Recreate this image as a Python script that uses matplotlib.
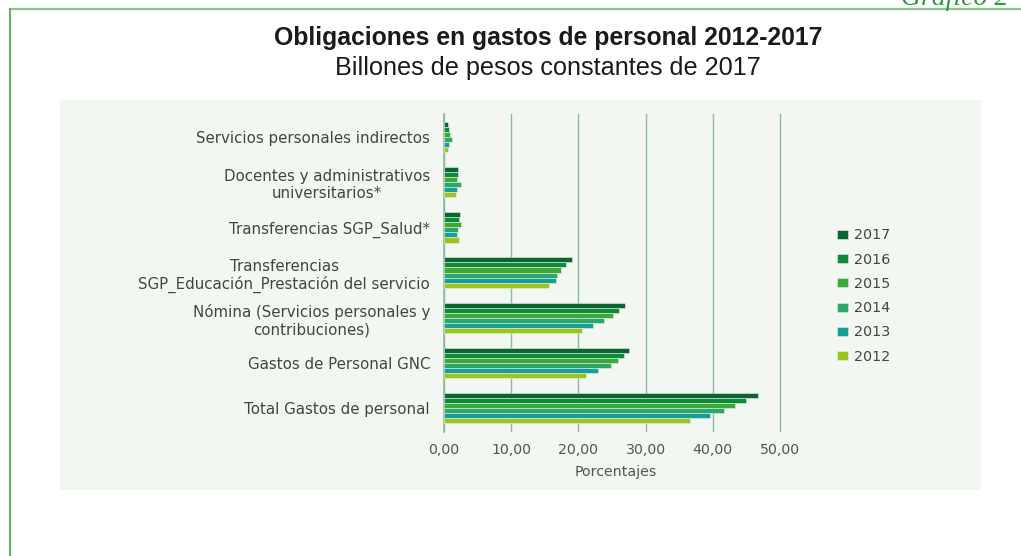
import matplotlib.pyplot as plt
import numpy as np
from matplotlib.patches import Rectangle
from matplotlib.lines import Line2D

# Categories, bottom to top on the chart
categories = [
    'Total Gastos de personal',
    'Gastos de Personal GNC',
    'Nómina (Servicios personales y\ncontribuciones)',
    'Transferencias\nSGP_Educación_Prestación del servicio',
    'Transferencias SGP_Salud*',
    'Docentes y administrativos\nuniversitarios*',
    'Servicios personales indirectos',
]

years = ['2017', '2016', '2015', '2014', '2013', '2012']

# Billions of constant 2017 pesos, one list per year (same order as categories)
v2017 = [46.7, 27.6, 27.0, 19.1, 2.4, 2.1, 0.65]
v2016 = [44.9, 26.8, 26.1, 18.1, 2.3, 2.1, 0.70]
v2015 = [43.3, 25.9, 25.1, 17.4, 2.6, 2.0, 0.95]
v2014 = [41.7, 24.9, 23.8, 16.8, 2.1, 2.5, 1.15]
v2013 = [39.6, 22.9, 22.2, 16.7, 2.0, 2.0, 0.80]
v2012 = [36.6, 21.1, 20.5, 15.6, 2.2, 1.85, 0.60]
values = [v2017, v2016, v2015, v2014, v2013, v2012]

colors = ['#0b6432', '#0e8a3b', '#3aa937', '#2ba869', '#14a096', '#9cc41f']

ticks = [0, 10, 20, 30, 40, 50]
tick_labels = ['0,00', '10,00', '20,00', '30,00', '40,00', '50,00']

plt.rcParams['font.family'] = ['DejaVu Sans']

fig = plt.figure(figsize=(10.21, 5.56), dpi=100)
W, H = 1021, 556

# outer frame lines and light panel behind the chart
fig.add_artist(Line2D([10 / W, 1], [1 - 9 / H, 1 - 9 / H], color='#86c48a', lw=1.6))
fig.add_artist(Line2D([10 / W, 10 / W], [0, 1 - 9 / H], color='#5cae5e', lw=1.4))
fig.add_artist(Rectangle((60 / W, 1 - 490 / H), (981 - 60) / W, (490 - 100) / H,
                         transform=fig.transFigure, facecolor='#f2f7f2',
                         edgecolor='none', zorder=0))

fig.text(1008 / W, 1 - 5 / H, 'Gráfico 2', ha='right', va='baseline',
         fontsize=20, style='italic', color='#2f9a3c', family=['Liberation Serif', 'DejaVu Serif'])
fig.text(548 / W, 1 - 38 / H, 'Obligaciones en gastos de personal 2012-2017',
         ha='center', va='center', fontsize=17.8, fontweight='bold', color='#1a1a1a',
         family=['Liberation Sans', 'DejaVu Sans'])
fig.text(548 / W, 1 - 68 / H, 'Billones de pesos constantes de 2017',
         ha='center', va='center', fontsize=18.2, color='#1a1a1a',
         family=['Liberation Sans', 'DejaVu Sans'])

x_max = 51
ax = fig.add_axes([444 / W, 1 - 432 / H, x_max * 6.72 / W, (432 - 114) / H])
ax.patch.set_alpha(0)

y = np.arange(len(categories))
bar_h = 0.112
for i, (yr, vals, c) in enumerate(zip(years, values, colors)):
    offset = (2.5 - i) * bar_h
    ax.barh(y + offset, vals, height=bar_h, color=c, label=yr,
            edgecolor='#e4efe4', linewidth=0.4, zorder=3)

ax.set_xlim(0, x_max)
ax.set_ylim(-0.53, 6.51)
ax.set_xticks(ticks)
ax.set_xticklabels(tick_labels, fontsize=10.2, color='#555555')
ax.set_yticks(y)
ax.set_yticklabels(categories, fontsize=10.8, color='#444444')
for lbl in ax.get_yticklabels():
    lbl.set_multialignment('center')
ax.tick_params(axis='y', length=0, pad=10)
ax.tick_params(axis='x', length=0, pad=8)
ax.grid(axis='x', color='#8fb8a0', lw=1.0, zorder=1)
for s in ['top', 'right', 'bottom']:
    ax.spines[s].set_visible(False)
ax.spines['left'].set_color('#8fb8a0')
ax.spines['left'].set_linewidth(1.2)
ax.set_xlabel('Porcentajes', fontsize=10.2, color='#555555', labelpad=6)

leg = fig.legend(loc='center left', bbox_to_anchor=(824 / W, 1 - 296 / H),
                 frameon=False, fontsize=10.3, handlelength=0.8, handleheight=0.6,
                 labelspacing=0.72, handletextpad=0.4)
for t in leg.get_texts():
    t.set_color('#444444')

fig.savefig('out.png', dpi=100)
